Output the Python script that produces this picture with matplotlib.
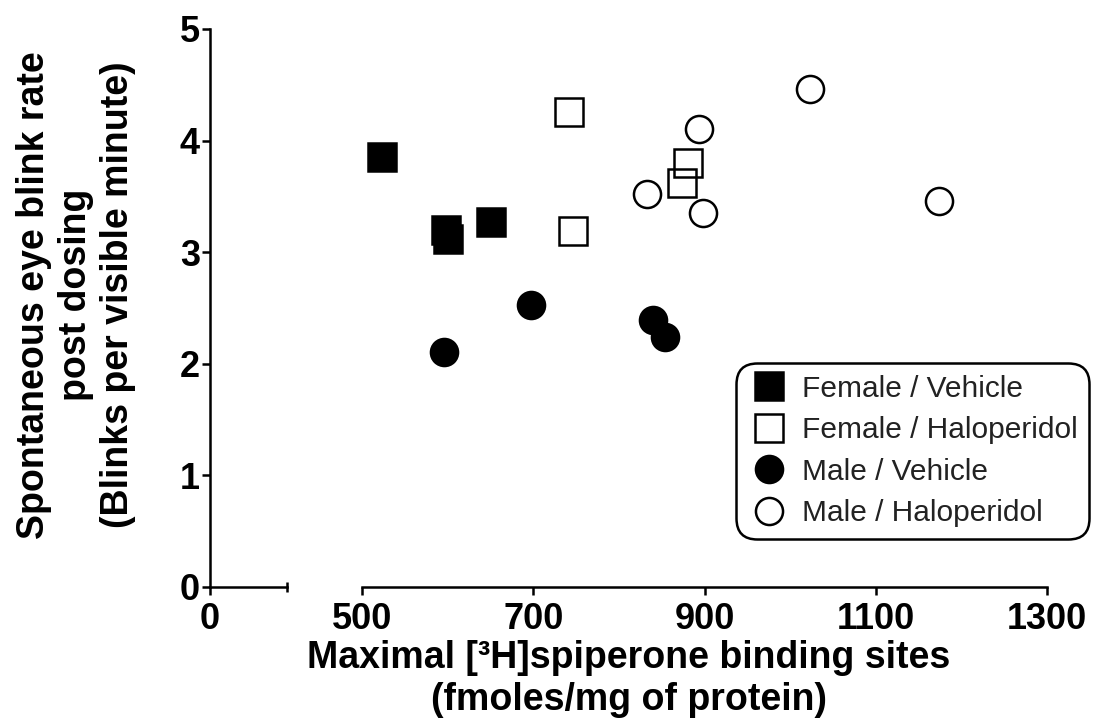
import numpy as np
import matplotlib; matplotlib.use("Agg")
import matplotlib.pyplot as plt
plt.rcParams.update({"font.family": ["Liberation Sans", "DejaVu Sans"], "axes.linewidth": 1.8})

# data: x = Bmax (fmoles/mg protein), y = blinks per visible minute
fv_x = [523, 598, 600, 650]
fv_y = [3.85, 3.20, 3.12, 3.27]
fh_x = [742, 881, 874, 746]
fh_y = [4.26, 3.80, 3.62, 3.19]
mv_x = [596, 697, 840, 854]
mv_y = [2.11, 2.53, 2.39, 2.24]
mh_x = [1023, 893, 833, 898, 1174]
mh_y = [4.46, 4.10, 3.52, 3.35, 3.46]
groups = ["Female / Vehicle", "Female / Haloperidol", "Male / Vehicle", "Male / Haloperidol"]
yticks = [0, 1, 2, 3, 4, 5]
xticks_right = [500, 700, 900, 1100, 1300]

W, H = 1094, 727
fig = plt.figure(figsize=(W/100, H/100), dpi=100)
bot, top = 587, 29
axL = fig.add_axes([209.5/W, (H-bot)/H, 77/W, (bot-top)/H])
axR = fig.add_axes([362.3/W, (H-bot)/H, 684.7/W, (bot-top)/H])

for ax in (axL, axR):
    ax.set_ylim(0, 5)
    ax.spines["top"].set_visible(False)
    ax.spines["right"].set_visible(False)
    ax.tick_params(which="major", direction="out", length=5.8, width=1.8, labelsize=26, pad=5)
    ax.tick_params(which="minor", direction="inout", length=7, width=1.8)
    for lab in ax.get_xticklabels() + ax.get_yticklabels():
        lab.set_fontweight("bold")

axL.set_xlim(0, 90)
axL.set_xticks([0])
axL.set_xticks([90], minor=True)
axL.set_yticks(yticks)
axL.tick_params(axis="y", pad=1)
axL.set_xticklabels(["0"], fontweight="bold")
axL.set_yticklabels([str(v) for v in yticks], fontweight="bold")

axR.set_xlim(500, 1300)
axR.set_xticks(xticks_right)
axR.set_xticks([500, 1300], minor=True)
axR.set_xticklabels([str(v) for v in xticks_right], fontweight="bold")
axR.spines["left"].set_visible(False)
axR.tick_params(axis="y", which="both", left=False, labelleft=False)

ms = 19.5; mew = 1.8
axR.plot(fv_x, fv_y, "s", ms=ms, mfc="black", mec="black", mew=mew, ls="none", clip_on=False, label=groups[0])
axR.plot(fh_x, fh_y, "s", ms=ms, mfc="none", mec="black", mew=mew, ls="none", clip_on=False, label=groups[1])
axR.plot(mv_x, mv_y, "o", ms=ms, mfc="black", mec="black", mew=mew, ls="none", clip_on=False, label=groups[2])
axR.plot(mh_x, mh_y, "o", ms=ms, mfc="none", mec="black", mew=mew, ls="none", clip_on=False, label=groups[3])

leg = axR.legend(loc="upper left", bbox_to_anchor=(736/W, 1-363/H), bbox_transform=fig.transFigure,
                 borderaxespad=0, borderpad=0.4, handlelength=1.4, handletextpad=0.4, labelspacing=0.45,
                 fontsize=21.5, numpoints=1, frameon=True, fancybox=True, framealpha=1)
fr = leg.get_frame()
fr.set_edgecolor("black"); fr.set_linewidth(1.8)
fr.set_boxstyle("round", pad=0, rounding_size=0.7)
for t in leg.get_texts():
    t.set_color("#222222")

fig.text(76/W, 1-295/H, "Spontaneous eye blink rate\npost dosing\n(Blinks per visible minute)",
         rotation=90, ha="center", va="center", multialignment="center", fontsize=27, fontweight="bold")
fig.text(629/W, 1-640/H, "Maximal [³H]spiperone binding sites\n(fmoles/mg of protein)",
         ha="center", va="top", multialignment="center", fontsize=27, fontweight="bold")

fig.savefig("out.png", dpi=100)
